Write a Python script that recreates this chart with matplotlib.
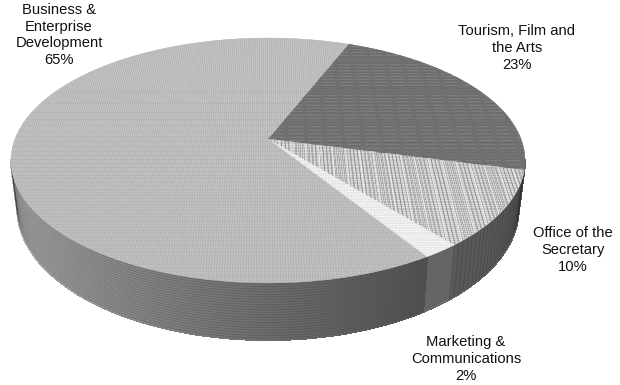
import numpy as np
import matplotlib
matplotlib.use("Agg")
import matplotlib.pyplot as plt
from matplotlib.patches import Polygon
from matplotlib.collections import LineCollection, PolyCollection

plt.rcParams["font.family"] = ["Liberation Sans", "DejaVu Sans"]

# Budget shares, clockwise from the first slice
departments = ["Tourism, Film and\nthe Arts", "Office of the\nSecretary",
               "Marketing &\nCommunications", "Business &\nEnterprise\nDevelopment"]
shares = [23, 10, 2, 65]
label_xy = [(517, 48), (573, 250), (466, 359), (59, 35)]

face_colors = ["#727272", "#e2e2e2", "#f6f6f6", "#bababa"]
wall_colors = ["#666666", "#5e5e5e", "#6b6b6b", None]

START_DEG = 21.7
CX, CY, A, B, K = 268.0, 139.0, 253.0, 118.7, 0.1755
DEPTH = 47.0
FOOT_SCALE = 0.975


def project(x, y):
    """Perspective map from the unit disk to figure pixels."""
    w = 1 + K * np.asarray(y)
    return CX + A * np.asarray(x) / w, CY - B * np.asarray(y) / w


def rim(theta):
    return np.sin(theta), np.cos(theta)


def wall_point(theta, frac):
    """Point on the wall at a fraction of the way from top rim to bottom rim."""
    x, y = rim(theta)
    px, py = project(x, y)
    d = DEPTH / (1 + K * y)
    return CX + (px - CX) * (1 - (1 - FOOT_SCALE) * frac), py + d * frac


def grid_lines(spacing, vertical):
    """Segments of a regular disk-plane line family, in figure pixels."""
    t = np.linspace(-1.05, 1.05, 2)
    segs = []
    for c in np.arange(-1.05, 1.05, spacing):
        if vertical:
            px, py = project(np.full(2, c), t)
        else:
            px, py = project(t, np.full(2, c))
        segs.append(np.column_stack([px, py]))
    return segs


fig = plt.figure(figsize=(6.2, 3.85), dpi=100)
ax = fig.add_axes([0, 0, 1, 1])
ax.set_xlim(0, 620)
ax.set_ylim(385, 0)
ax.axis("off")

edges = np.deg2rad(START_DEG + np.concatenate([[0], np.cumsum(shares)]) * 3.6)

# Outer wall, from the right extreme round the front to the left extreme
th_right = np.deg2rad(100.0)
th_left = np.deg2rad(260.0)
ths = np.linspace(th_right, th_left, 300)
quads, cols = [], []
for t0, t1 in zip(ths[:-1], ths[1:]):
    mid = (t0 + t1) / 2
    idx = np.searchsorted(edges, mid) - 1
    if wall_colors[idx] is not None:
        g = wall_colors[idx]
    else:
        f = (mid - edges[3]) / (th_left - edges[3])
        v = 0.32 + 0.42 * f ** 1.1
        g = (v, v, v)
    quads.append([wall_point(t0, 0), wall_point(t1, 0),
                  wall_point(t1, 1), wall_point(t0, 1)])
    cols.append(g)
ax.add_collection(PolyCollection(quads, facecolors=cols, edgecolors=cols,
                                 linewidths=0.8, antialiased=False, zorder=1))

# Banding that follows the rim down the wall
bands = [np.column_stack(wall_point(ths, f)) for f in np.arange(0.02, 1.0, 0.045)]
ax.add_collection(LineCollection(bands, colors="#383838", linewidths=0.6,
                                 alpha=0.3, zorder=2))
# Slim vertical ribs on the right-hand slice walls
rib_th = np.linspace(th_right, edges[2], 30)
ribs = [np.column_stack(wall_point(np.full(2, t), np.array([0.0, 1.0]))) for t in rib_th]
ax.add_collection(LineCollection(ribs, colors="#303030", linewidths=0.5,
                                 alpha=0.4, zorder=2))

# Top face: one textured polygon per slice
textures = [
    [(0.0315, False, "#7e7e7e", 0.8), (0.0285, False, "#686868", 0.5),
     (0.075, True, "#707070", 3.0)],
    [(0.0125, False, "#c6c6c6", 0.6), (0.0147, True, "#777777", 0.3),
     (0.0133, True, "#777777", 0.3), (0.052, True, "#eeeeee", 0.7)],
    [(0.011, False, "#e2e2e2", 0.4), (0.011, True, "#e2e2e2", 0.4)],
    [(0.0105, False, "#c8c8c8", 0.5), (0.0088, True, "#acacac", 0.4)],
]
for i in range(len(shares)):
    th = np.linspace(edges[i], edges[i + 1], 120)
    ex, ey = project(*rim(th))
    pts = np.column_stack([np.r_[CX, ex], np.r_[CY, ey]])
    poly = Polygon(pts, closed=True, facecolor=face_colors[i],
                   edgecolor=face_colors[i], linewidth=0.3, zorder=3)
    ax.add_patch(poly)
    for spacing, vertical, color, lw in textures[i]:
        lc = LineCollection(grid_lines(spacing, vertical), colors=color,
                            linewidths=lw, zorder=4)
        ax.add_collection(lc)
        lc.set_clip_path(poly)

for name, share, (x, y) in zip(departments, shares, label_xy):
    ax.text(x, y, f"{name}\n{share}%", ha="center", va="center",
            fontsize=10.6, color="#111111", linespacing=1.26, zorder=5)

fig.savefig("out.png", dpi=100)
